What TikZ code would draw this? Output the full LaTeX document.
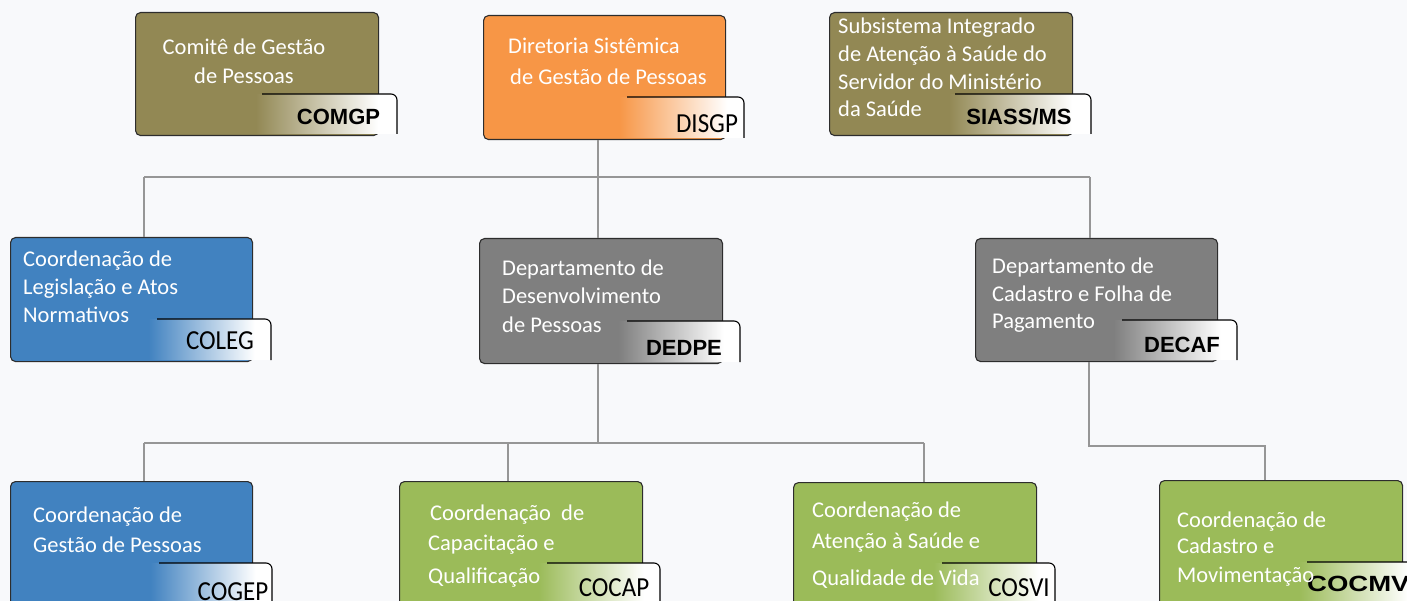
\documentclass[tikz,border=0pt]{standalone}
\usepackage{fontspec}
\setmainfont{Carlito}
\newfontfamily\arialf{Liberation Sans}
\definecolor{bgc}{RGB}{248,249,251}
\definecolor{olivec}{RGB}{146,136,84}
\definecolor{orangec}{RGB}{247,150,70}
\definecolor{grayc}{RGB}{127,127,127}
\definecolor{bluec}{RGB}{65,130,192}
\definecolor{greenc}{RGB}{155,187,89}
\definecolor{connc}{RGB}{150,150,150}
\definecolor{boxline}{RGB}{45,45,45}
\colorlet{tabc}{white}
\pgfdeclarehorizontalshading[tabc]{tabshade}{100bp}{color(0bp)=(tabc);color(30bp)=(tabc);color(69bp)=(white);color(100bp)=(white)}
\newcommand\tabpath[5]{%
  \colorlet{tabc}{#5}%
  \shade[shading=tabshade, rounded corners=6pt] (#1,#4) -- (#1,#2) -- (#3,#2) -- (#3,#4);
  \draw[black, line width=1.1pt, rounded corners=6pt] ({#1+22},#2) -- (#3,#2) -- (#3,#4);
}
\tikzset{
  box/.style={draw=boxline, line width=1.1pt, rounded corners=5pt, anchor=north west, inner sep=0pt},
  conn/.style={draw=connc, line width=1.1pt},
  btxt/.style={text=white, align=left, inner sep=0pt, anchor=base west, font=\fontsize{22.5}{28}\selectfont},
  tabA/.style={inner sep=0pt, text=black, font=\arialf\bfseries\fontsize{22}{24}\selectfont},
  tabC/.style={inner sep=0pt, text=black, font=\fontsize{25}{28}\selectfont},
}
\begin{document}
\begin{tikzpicture}[x=1pt,y=-1pt]
\useasboundingbox (0,0) rectangle (1407,601);
\fill[bgc] (0,0) rectangle (1407,601);
\clip (0,0) rectangle (1407,601);

% boxes
\node[box, fill=olivec, minimum width=243pt, minimum height=123pt] (comgp) at (135,12) {};
\node[box, fill=orangec, minimum width=242pt, minimum height=124pt] (disgp) at (483,15) {};
\node[box, fill=olivec, minimum width=243pt, minimum height=123pt] (siass) at (829,12) {};
\node[box, fill=bluec, minimum width=242pt, minimum height=124pt] (coleg) at (10,237) {};
\node[box, fill=grayc, minimum width=243pt, minimum height=125pt] (dedpe) at (479,238) {};
\node[box, fill=grayc, minimum width=242pt, minimum height=123pt] (decaf) at (975,238) {};
\node[box, fill=bluec, minimum width=242pt, minimum height=140pt] (cogep) at (10,481) {};
\node[box, fill=greenc, minimum width=243pt, minimum height=140pt] (cocap) at (399,481) {};
\node[box, fill=greenc, minimum width=243pt, minimum height=140pt] (cosvi) at (793,482) {};
\node[box, fill=greenc, minimum width=243pt, minimum height=140pt] (cocmv) at (1159,480) {};

% connectors
\coordinate (b0) at (598,177);
\coordinate (b1) at (144,177);
\coordinate (b2) at (1090,177);
\draw[conn] (disgp.south -| b0) -- (b0);
\draw[conn] (b1) -- (b2);
\draw[conn] (b1) -- (coleg.north -| b1);
\draw[conn] (b0) -- (dedpe.north -| b0);
\draw[conn] (b2) -- (decaf.north -| b2);
\coordinate (c0) at (598,443);
\coordinate (c1) at (144,443);
\coordinate (c2) at (508,443);
\coordinate (c3) at (924,443);
\draw[conn] (dedpe.south -| c0) -- (c0);
\draw[conn] (c1) -- (c3);
\draw[conn] (c1) -- (cogep.north -| c1);
\draw[conn] (c2) -- (cocap.north -| c2);
\draw[conn] (c3) -- (cosvi.north -| c3);
\coordinate (d0) at (1089,446);
\coordinate (d1) at (1265,446);
\draw[conn] (decaf.south -| d0) -- (d0) -- (d1) -- (cocmv.north -| d1);

% tabs
\tabpath{240}{94}{397}{134}{olivec}
\tabpath{605}{97}{744}{138}{orangec}
\tabpath{933}{94}{1091}{134}{olivec}
\tabpath{135}{319}{271}{360}{bluec}
\tabpath{605}{321}{740}{362}{grayc}
\tabpath{1100}{320}{1237}{360}{grayc}
\tabpath{137}{563}{272}{640}{bluec}
\tabpath{525}{563}{660}{640}{greenc}
\tabpath{920}{563}{1055}{640}{greenc}
\tabpath{1285}{562}{1425}{640}{greenc}

% tab labels
\node[tabA] (tcomgp) at (338.5,117) {COMGP};
\node[tabC] (tdisgp) at (707,124) {\scalebox{1}[1.1]{DISGP}};
\node[tabA] (tsiass) at (1019,117) {SIASS/MS};
\node[tabC] (tcoleg) at (220,341) {\scalebox{1}[1.1]{COLEG}};
\node[tabA] (tdedpe) at (684,348) {DEDPE};
\node[tabA] (tdecaf) at (1182,345) {DECAF};
\node[tabC] (tcogep) at (233,592) {\scalebox{1}[1.1]{COGEP}};
\node[tabC] (tcocap) at (614,588) {\scalebox{1}[1.1]{COCAP}};
\node[tabC] (tcosvi) at (1019,588) {\scalebox{1}[1.1]{COSVI}};
\node[tabA, anchor=west] (tcocmv) at (1307,584) {\scalebox{1.25}[1]{COCMV}};

% box texts (anchor = baseline of last line)
\node[btxt, align=center, anchor=base] (xcomgp) at (244,84) {Comitê de Gestão\\[1pt]de Pessoas};
\node[btxt] (xdisgp) at (508,85) {Diretoria Sistêmica\\[3pt]\hspace{2pt}de Gestão de Pessoas};
\node[btxt, font=\fontsize{22.5}{27.7}\selectfont] (xsiass) at (838,117) {Subsistema Integrado\\de Atenção à Saúde do\\Servidor do Ministério\\da Saúde};
\node[btxt] (xcoleg) at (23,323) {Coordenação de\\Legislação e Atos\\Normativos};
\node[btxt, font=\fontsize{22.5}{28.5}\selectfont] (xdedpe) at (502,332) {Departamento de\\Desenvolvimento\\de Pessoas};
\node[btxt, font=\fontsize{22.5}{27.5}\selectfont] (xdecaf) at (992,329) {Departamento de\\Cadastro e Folha de\\Pagamento};
\node[btxt] (xcogep) at (33,552) {Coordenação de\\[2pt]Gestão de Pessoas};
\node[btxt] (xcocap) at (428,583) {\hspace{2pt}Coordenação\ \ de\\[2pt]Capacitação e\\[5pt]Qualificação};
\node[btxt] (xcosvi) at (812,585) {Coordenação de\\[3pt]Atenção à Saúde e\\[9pt]Qualidade de Vida};
\node[btxt] (xcocmv) at (1177,582) {Coordenação de\\[-2pt]Cadastro e\\[1pt]Movimentação};
\end{tikzpicture}
\end{document}
